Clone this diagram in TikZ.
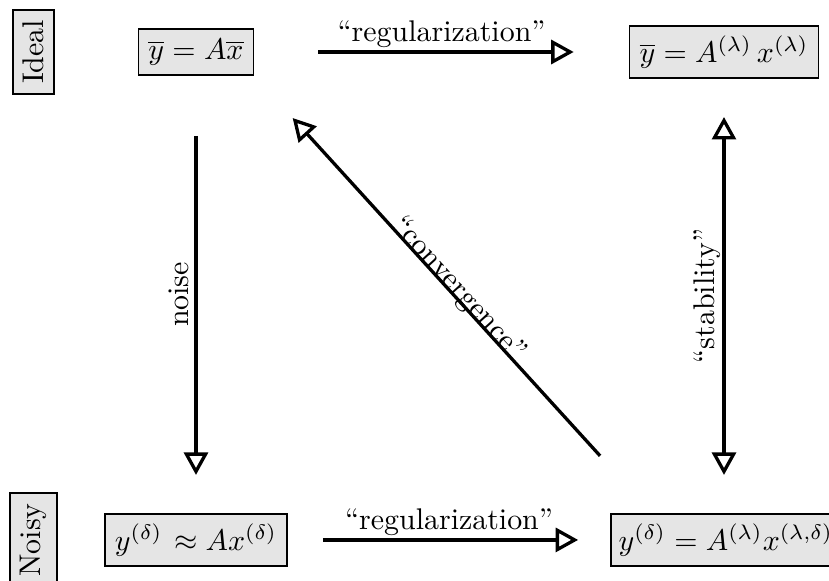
\documentclass[tikz,border=0pt]{standalone}
\usetikzlibrary{arrows.meta, positioning, calc}
\tikzset{
  every picture/.style={line width=1.1pt},
  otri/.tip={Triangle[open, length=7.5pt, width=8pt]},
  mathbox/.style={draw, fill=gray!20, line width=0.6pt},
  rowbox/.style={draw, fill=gray!20, line width=0.6pt, rotate=90},
  arrow/.style={-otri},
  darrow/.style={otri-otri},
  lbl/.style={midway, inner sep=2pt},
}

\begin{document}
\begin{tikzpicture}
  \useasboundingbox (0,0) rectangle (9.742,-6.827);
  % rows
  \node[rowbox] (ideal) at (0.394,-0.611) {Ideal};
  \node[rowbox] (noisy) at (0.394,-6.345) {Noisy};
  % the four problems
  \node[mathbox] (ybar) at (2.303,-0.611) {$\overline{y} = A\overline{x}$};
  \node[mathbox] (ylam) at (8.508,-0.611) {$\overline{y} = A^{(\lambda)}\,x^{(\lambda)}$};
  \node[mathbox] (ydel) at (2.303,-6.345) {$y^{(\delta)}\mkern2mu \approx Ax^{(\delta)}$};
  \node[mathbox, anchor=west, inner xsep=2.5pt] (ylamdel) at (7.17,-6.345) {$y^{(\delta)} = A^{(\lambda)}x^{(\lambda,\delta)}$};
  % top and bottom
  \draw[arrow, shorten <=21.4pt, shorten >=18.4pt] (ybar) -- node[lbl, above, inner sep=1pt] {``regularization''} (ylam);
  \draw[arrow, shorten <=11.7pt, shorten >=10.7pt] (ydel) -- node[lbl, above, inner sep=1pt] {``regularization''} (ylamdel);
  % sides
  \draw[arrow, shorten <=20pt, shorten >=12.7pt] (ybar) -- node[lbl, rotate=90, anchor=south] {noise} (ydel);
  \draw[darrow, shorten <=12.7pt, shorten >=12.7pt] (ylam.south) -- node[lbl, rotate=90, anchor=south, inner sep=0.5pt] {``stability''} (ylam.south |- ylamdel.north);
  % diagonal
  \draw[arrow, shorten <=25.8pt, shorten >=19pt] ([xshift=14pt]ylamdel.north west) -- node[lbl, sloped, anchor=base, inner sep=0pt] {``convergence''} (ybar.south east);
\end{tikzpicture}
\end{document}
